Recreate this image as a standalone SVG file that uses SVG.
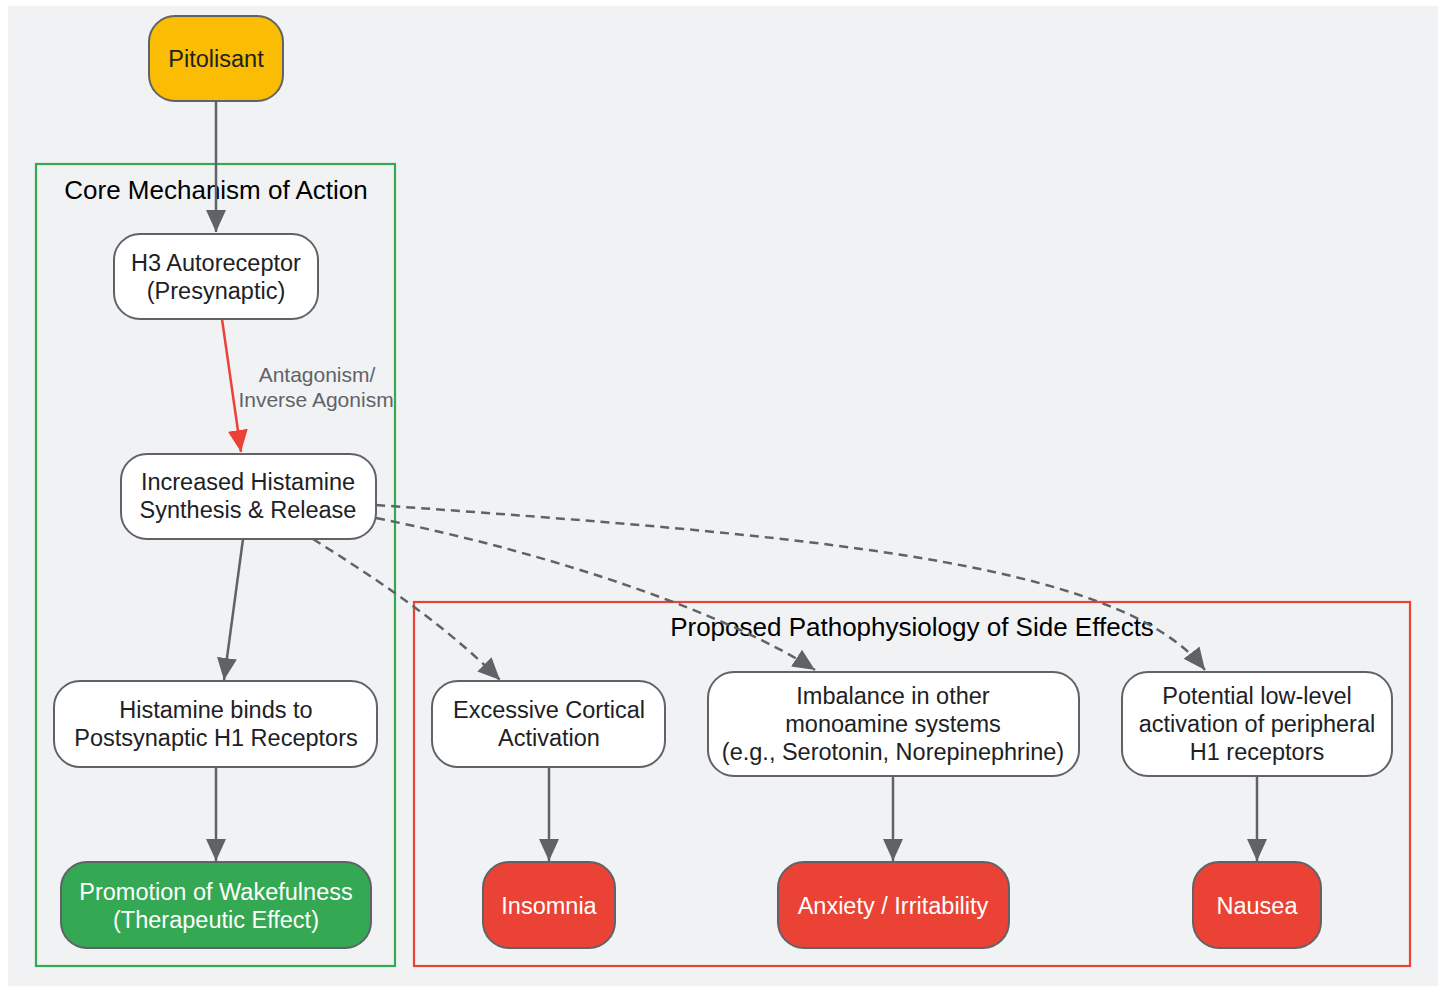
<svg xmlns="http://www.w3.org/2000/svg" width="1445" height="986" viewBox="0 0 1445 986">
<defs>
<style>
.node rect{stroke:#5f6368;stroke-width:2}
.w rect{fill:#ffffff}
.t{font-family:"Liberation Sans",Arial,sans-serif;font-size:23.5px;text-anchor:middle;fill:#202124}
.tw{fill:#ffffff}
.edge{fill:none;stroke:#5f6368;stroke-width:2.5}
.dash{stroke-dasharray:9,6}
.ct{font-family:"Liberation Sans",Arial,sans-serif;font-size:26px;text-anchor:middle;fill:#000000}
.lbl{font-family:"Liberation Sans",Arial,sans-serif;font-size:21px;text-anchor:middle;fill:#5f6368}
</style>
<marker id="ah" markerUnits="userSpaceOnUse" markerWidth="24" markerHeight="24" viewBox="0 0 24 24" refX="22" refY="12" orient="auto">
<path d="M0,2 L22,12 L0,22 Z" fill="#5f6368"/>
</marker>
<marker id="ahr" markerUnits="userSpaceOnUse" markerWidth="24" markerHeight="24" viewBox="0 0 24 24" refX="22" refY="12" orient="auto">
<path d="M0,2 L22,12 L0,22 Z" fill="#ea4335"/>
</marker>
</defs>
<rect x="0" y="0" width="1445" height="986" fill="#ffffff"/>
<rect x="8" y="6" width="1430" height="980" fill="#f1f2f4"/>

<g id="cluster-core">
<rect x="36" y="164" width="359" height="802" fill="none" stroke="#34a853" stroke-width="2.2"/>
<text class="ct" x="216" y="199">Core Mechanism of Action</text>
</g>
<g id="cluster-side">
<rect x="414" y="602" width="996" height="364" fill="none" stroke="#ea4335" stroke-width="2.2"/>
<text class="ct" x="912" y="636">Proposed Pathophysiology of Side Effects</text>
</g>

<g id="connectors">
<path class="edge" d="M216,101 L216,232" marker-end="url(#ah)"/>
<path class="edge" d="M222,319 L241,452" style="stroke:#ea4335" marker-end="url(#ahr)"/>
<text class="lbl" x="317" y="382">Antagonism/</text>
<text class="lbl" x="316" y="407">Inverse Agonism</text>
<path class="edge" d="M243,539 L224,680" marker-end="url(#ah)"/>
<path class="edge" d="M216,767 L216,861" marker-end="url(#ah)"/>
<path class="edge dash" d="M313,539 C370,575 440,620 500,680" marker-end="url(#ah)"/>
<path class="edge dash" d="M376,518 C560,555 730,615 815,670" marker-end="url(#ah)"/>
<path class="edge dash" d="M376,505 C800,535 1120,560 1205,670" marker-end="url(#ah)"/>
<path class="edge" d="M549,767 L549,861" marker-end="url(#ah)"/>
<path class="edge" d="M893,776 L893,861" marker-end="url(#ah)"/>
<path class="edge" d="M1257,776 L1257,861" marker-end="url(#ah)"/>
</g>

<g id="pitolisant" class="node">
<rect x="149" y="16" width="134" height="85" rx="26" fill="#fbbc04"/>
<text class="t" x="216" y="67">Pitolisant</text>
</g>
<g id="h3" class="node w">
<rect x="114" y="234" width="204" height="85" rx="26"/>
<text class="t" x="216" y="271">H3 Autoreceptor</text>
<text class="t" x="216" y="299">(Presynaptic)</text>
</g>
<g id="increased" class="node w">
<rect x="121" y="454" width="255" height="85" rx="26"/>
<text class="t" x="248" y="490">Increased Histamine</text>
<text class="t" x="248" y="518">Synthesis &amp; Release</text>
</g>
<g id="binds" class="node w">
<rect x="54" y="681" width="323" height="86" rx="26"/>
<text class="t" x="216" y="718">Histamine binds to</text>
<text class="t" x="216" y="746">Postsynaptic H1 Receptors</text>
</g>
<g id="wake" class="node">
<rect x="61" y="862" width="310" height="86" rx="26" fill="#34a853"/>
<text class="t tw" x="216" y="900">Promotion of Wakefulness</text>
<text class="t tw" x="216" y="928">(Therapeutic Effect)</text>
</g>
<g id="cortical" class="node w">
<rect x="432" y="681" width="233" height="86" rx="26"/>
<text class="t" x="549" y="718">Excessive Cortical</text>
<text class="t" x="549" y="746">Activation</text>
</g>
<g id="imbalance" class="node w">
<rect x="708" y="672" width="371" height="104" rx="26"/>
<text class="t" x="893" y="704">Imbalance in other</text>
<text class="t" x="893" y="732">monoamine systems</text>
<text class="t" x="893" y="760">(e.g., Serotonin, Norepinephrine)</text>
</g>
<g id="peripheral" class="node w">
<rect x="1122" y="672" width="270" height="104" rx="26"/>
<text class="t" x="1257" y="704">Potential low-level</text>
<text class="t" x="1257" y="732">activation of peripheral</text>
<text class="t" x="1257" y="760">H1 receptors</text>
</g>
<g id="insomnia" class="node">
<rect x="483" y="862" width="132" height="86" rx="26" fill="#ea4335"/>
<text class="t tw" x="549" y="914">Insomnia</text>
</g>
<g id="anxiety" class="node">
<rect x="778" y="862" width="231" height="86" rx="26" fill="#ea4335"/>
<text class="t tw" x="893" y="914">Anxiety / Irritability</text>
</g>
<g id="nausea" class="node">
<rect x="1193" y="862" width="128" height="86" rx="26" fill="#ea4335"/>
<text class="t tw" x="1257" y="914">Nausea</text>
</g>
</svg>
